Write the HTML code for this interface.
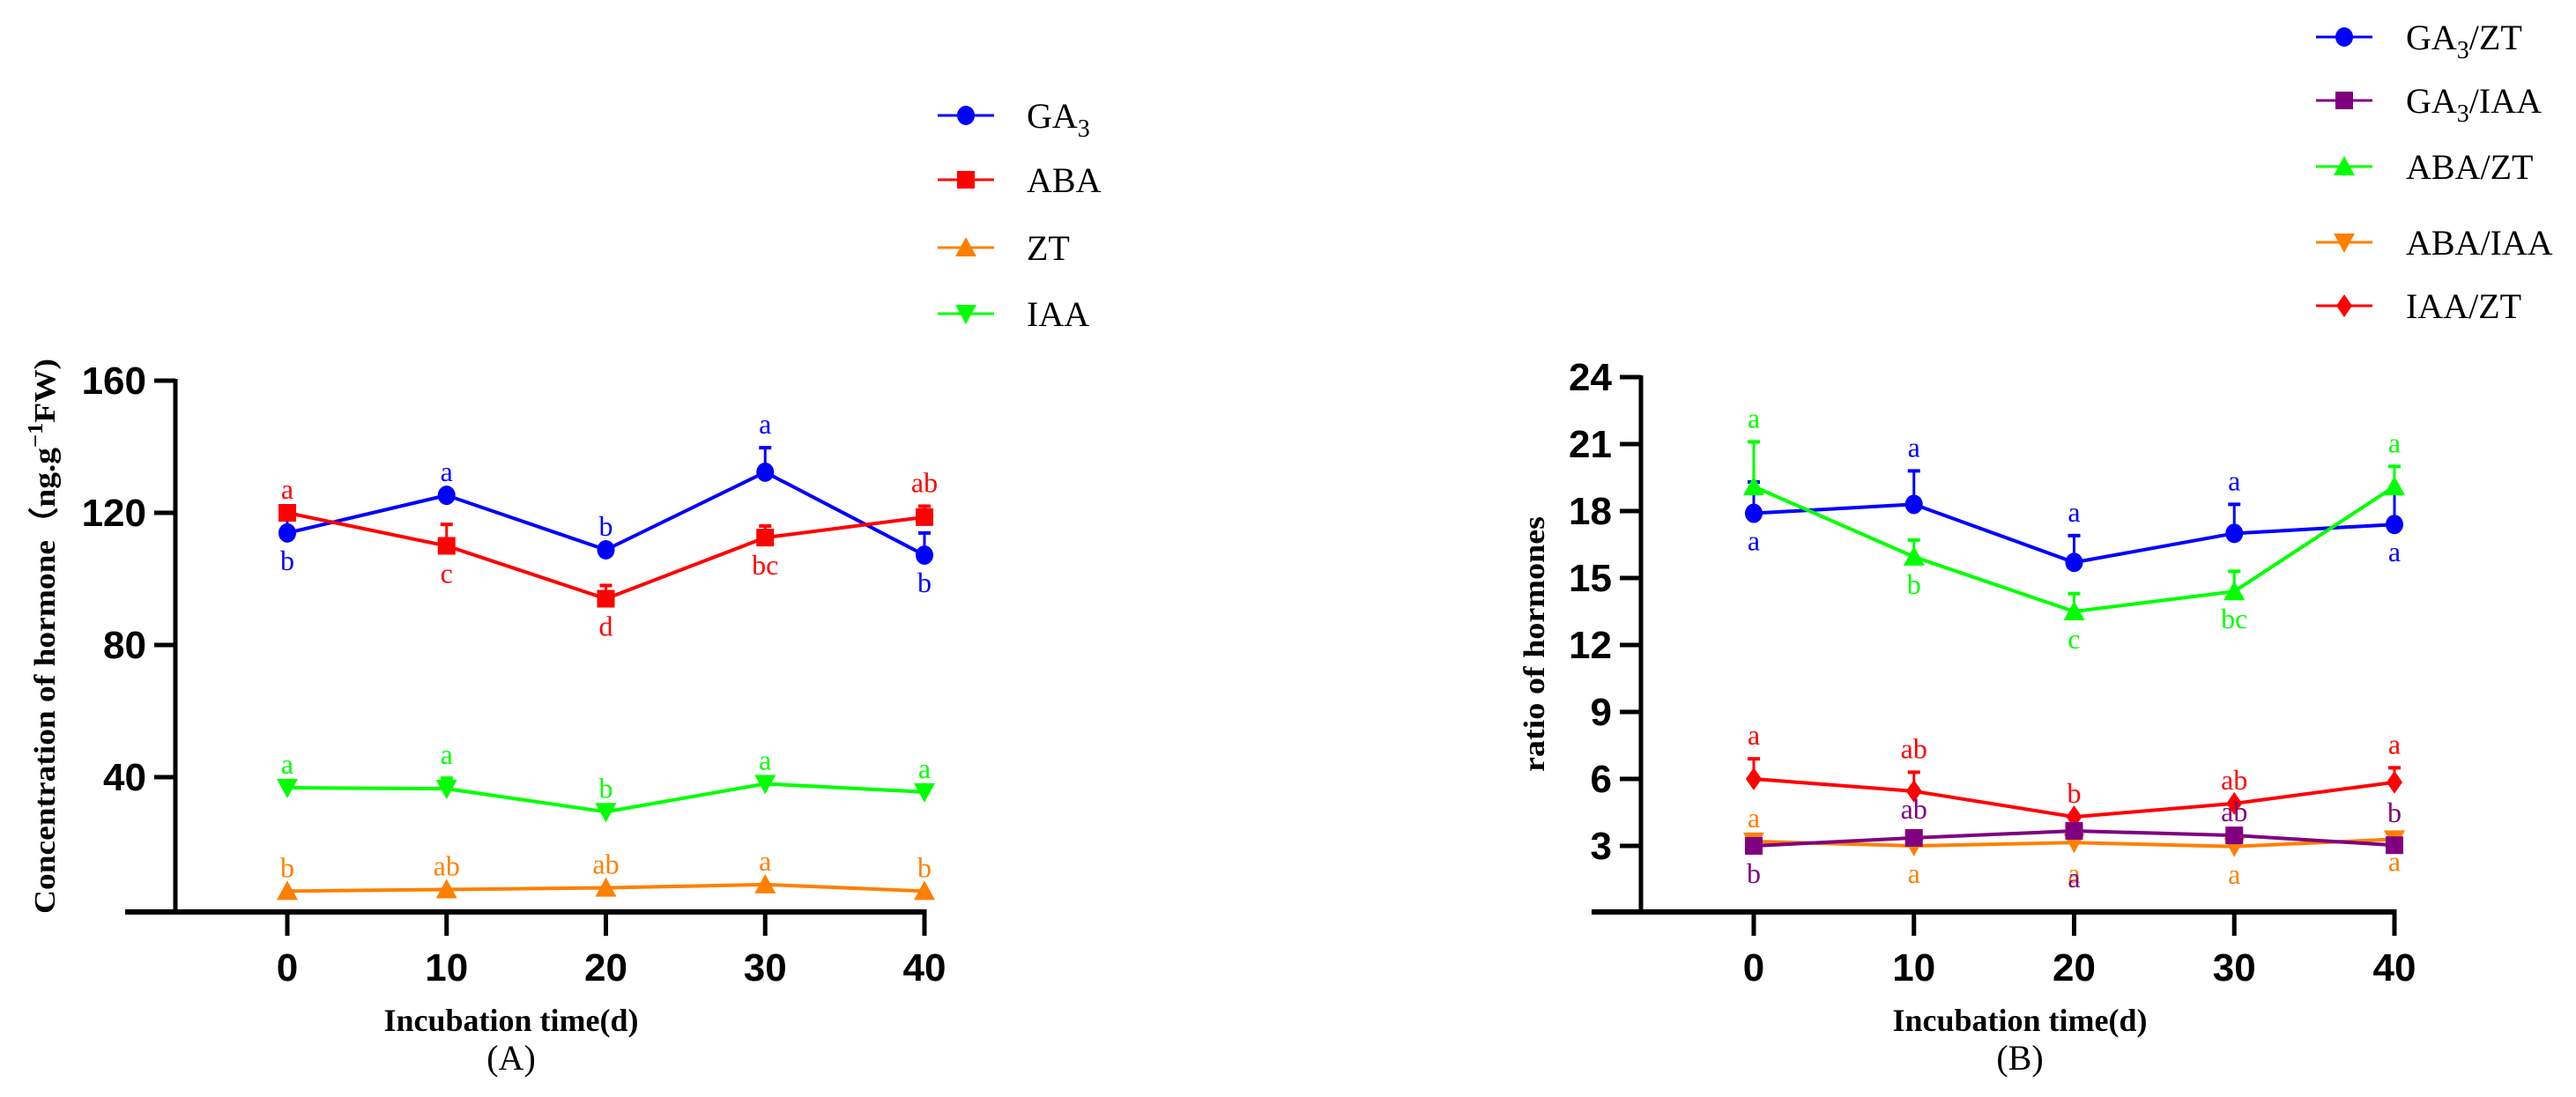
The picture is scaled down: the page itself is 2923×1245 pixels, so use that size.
<!DOCTYPE html>
<html><head><meta charset="utf-8">
<style>
html,body{margin:0;padding:0;background:#fff;}
svg{display:block;}
.tick{font-family:"Liberation Sans",sans-serif;font-weight:bold;font-size:44px;}
.ttl{font-family:"Liberation Serif",serif;font-weight:bold;}
.lbl{font-family:"Liberation Serif",serif;font-size:32px;}
.leg{font-family:"Liberation Serif",serif;font-size:40px;}
</style></head>
<body>
<svg id="chart" width="2923" height="1245" viewBox="0 0 2923 1245" xmlns="http://www.w3.org/2000/svg"></svg>
<script>
// ---- data ----
const days = [0, 10, 20, 30, 40];
const leftTicks = [40, 80, 120, 160];
const rightTicks = [3, 6, 9, 12, 15, 18, 21, 24];

const ga3 = [113.9, 125.3, 108.8, 132.3, 107.2];
const ga3Err = [120.5, 125.3, 108.8, 139.7, 113.9];
const ga3Letters = ["b", "a", "b", "a", "b"];
const ga3Side = [1, -1, -1, -1, 1];

const aba = [120, 110, 94, 112.5, 118.7];
const abaErr = [120, 116.5, 98, 116, 122];
const abaLetters = ["a", "c", "d", "bc", "ab"];
const abaSide = [-1, 1, 1, 1, -1];

const zt = [5.5, 6, 6.5, 7.5, 5.5];
const ztErr = [5.5, 6, 6.5, 7.5, 5.5];
const ztLetters = ["b", "ab", "ab", "a", "b"];
const ztSide = [-1, -1, -1, -1, -1];

const iaa = [36.8, 36.5, 29.5, 38, 35.5];
const iaaErr = [36.8, 39.7, 29.5, 38, 35.5];
const iaaLetters = ["a", "a", "b", "a", "a"];
const iaaSide = [-1, -1, -1, -1, -1];

const ga3zt = [17.9, 18.3, 15.7, 17.0, 17.4];
const ga3ztErr = [19.3, 19.8, 16.9, 18.3, 18.9];
const ga3ztLetters = ["a", "a", "a", "a", "a"];
const ga3ztSide = [1, -1, -1, -1, 1];

const ga3iaa = [3.0, 3.36, 3.67, 3.47, 3.03];
const ga3iaaErr = [3.0, 3.36, 3.67, 3.47, 3.03];
const ga3iaaLetters = ["b", "ab", "a", "ab", "b"];
const ga3iaaSide = [1, -1, 1, -1, -1];

const abazt = [19.1, 15.95, 13.5, 14.4, 19.1];
const abaztErr = [21.1, 16.7, 14.3, 15.3, 20.0];
const abaztLetters = ["a", "b", "c", "bc", "a"];
const abaztSide = [-1, 1, 1, 1, -1];

const abaiaa = [3.2, 3.0, 3.15, 2.97, 3.3];
const abaiaaErr = [3.2, 3.0, 3.15, 2.97, 3.3];
const abaiaaLetters = ["a", "a", "a", "a", "a"];
const abaiaaSide = [-1, 1, 1, 1, 1];

const iaazt = [6.0, 5.45, 4.3, 4.9, 5.85];
const iaaztErr = [6.9, 6.3, 4.3, 4.9, 6.5];
const iaaztLetters = ["a", "ab", "b", "ab", "a"];
const iaaztSide = [-1, -1, -1, -1, -1];

// ---- rendering ----
const NS = "http://www.w3.org/2000/svg";
const svg = document.getElementById("chart");
function el(tag, attrs, parent) {
  const e = document.createElementNS(NS, tag);
  for (const k in attrs) e.setAttribute(k, attrs[k]);
  (parent || svg).appendChild(e);
  return e;
}
function marker(g, shape, cx, cy, color) {
  let m;
  if (shape === "circle") m = el("ellipse", {cx: cx, cy: cy, rx: 10, ry: 11, fill: color}, g);
  else if (shape === "square") m = el("rect", {x: cx - 10, y: cy - 10, width: 20, height: 20, fill: color}, g);
  else if (shape === "up") m = el("polygon", {points: `${cx-12},${cy+10} ${cx+12},${cy+10} ${cx},${cy-12}`, fill: color}, g);
  else if (shape === "down") m = el("polygon", {points: `${cx-12},${cy-10} ${cx+12},${cy-10} ${cx},${cy+12}`, fill: color}, g);
  else m = el("polygon", {points: `${cx},${cy-13} ${cx+9},${cy} ${cx},${cy+13} ${cx-9},${cy}`, fill: color}, g);
  return m;
}

function drawPanel(p) {
  const xS = d => p.x0 + (d - days[0]) / (days[4] - days[0]) * (p.x40 - p.x0);
  const yS = v => p.yBase - (v - p.ymin) / (p.ymax - p.ymin) * (p.yBase - p.yTop);
  const ax = el("g", {}, svg);
  
  
  const ya = el("line", {x1: p.axX, y1: yS(p.ymax) - 2, x2: p.axX, y2: 1037, stroke: "#000", "stroke-width": 5}, ax);
  
  
  const xa = el("line", {x1: p.xStart, y1: 1035, x2: xS(40) + 2.5, y2: 1035, stroke: "#000", "stroke-width": 6}, ax);
  
  
  p.ticks.forEach(t => {
    const y = yS(t);
    el("line", {x1: p.axX - 24, y1: y, x2: p.axX, y2: y, stroke: "#000", "stroke-width": 5}, ax);
    const tx = el("text", {x: p.axX - 33, y: y + 15, "text-anchor": "end", class: "tick"}, ax);
    tx.textContent = t;
    
    
  });
  days.forEach(d => {
    const x = xS(d);
    el("line", {x1: x, y1: 1035, x2: x, y2: 1062, stroke: "#000", "stroke-width": 5}, ax);
    const tx = el("text", {x: x, y: 1113, "text-anchor": "middle", class: "tick"}, ax);
    tx.textContent = d;
    
    
  });
  const xt = el("text", {x: p.titleX, y: 1170, "text-anchor": "middle", class: "ttl", "font-size": 36}, ax);
  xt.textContent = "Incubation time(d)";
  
  
  const pl = el("text", {x: p.titleX, y: 1214, "text-anchor": "middle", class: "leg", "font-size": 36}, ax);
  pl.textContent = p.panel;
  
  
  const yt = el("text", {x: 0, y: 0, "text-anchor": "middle", class: "ttl", "font-size": p.ytSize,
    transform: `translate(${p.ytX},${p.ytY}) rotate(-90)`, textLength: p.ytLen, lengthAdjust: "spacingAndGlyphs"}, ax);
  yt.innerHTML = p.ytitle;
  
  

  p.series.forEach(s => {
    const g = el("g", {}, svg);
    
    
    const pts = s.v.map((v, i) => `${xS(days[i])},${yS(v)}`).join(" ");
    el("polyline", {points: pts, fill: "none", stroke: s.c, "stroke-width": 4}, g);
    s.v.forEach((v, i) => {
      const x = xS(days[i]), y = yS(v), ye = yS(s.e[i]);
      if (ye < y - 3) {
        el("line", {x1: x, y1: y, x2: x, y2: ye, stroke: s.c, "stroke-width": 3}, g);
        el("line", {x1: x - 7, y1: ye, x2: x + 7, y2: ye, stroke: s.c, "stroke-width": 4}, g);
      }
      const m = marker(g, s.m, x, y, s.c);
      
      
      const top = Math.min(ye, y);
      const ly = s.side[i] < 0 ? top - 16 : y + 42;
      const t = el("text", {x: x, y: ly + (s.dy ? s.dy[i] : 0), "text-anchor": "middle", class: "lbl", fill: s.c}, g);
      t.textContent = s.L[i];
      
      
    });
  });

  p.legend.forEach((l, i) => {
    const g = el("g", {}, svg);
    
    
    const y = l.y;
    el("line", {x1: p.legX, y1: y, x2: p.legX + 64, y2: y, stroke: l.c, "stroke-width": 3}, g);
    marker(g, l.m, p.legX + 32, y, l.c);
    const t = el("text", {x: p.legTX, y: y + 14, class: "leg"}, g);
    t.innerHTML = l.t;
  });
}

drawPanel({
  name: "left-chart", panel: "(A)",
  x0: 326, x40: 1049, axX: 199, xStart: 142, yTop: 432, yBase: 1032, ymin: 0, ymax: 160,
  ticks: leftTicks, titleX: 580,
  ytitle: 'Concentration of hormone（ng.g<tspan dy="-14" font-size="24">−1</tspan><tspan dy="14">FW)</tspan>',
  ytX: 62, ytY: 722, ytSize: 34, ytLen: 630,
  series: [
    {id: "ga3", v: ga3, e: ga3Err, L: ga3Letters, side: ga3Side, c: "#0000ff", m: "circle"},
    {id: "aba", v: aba, e: abaErr, L: abaLetters, side: abaSide, c: "#ff0000", m: "square"},
    {id: "zt", v: zt, e: ztErr, L: ztLetters, side: ztSide, c: "#ff7f00", m: "up"},
    {id: "iaa", v: iaa, e: iaaErr, L: iaaLetters, side: iaaSide, c: "#00ff00", m: "down"}
  ],
  legX: 1064, legTX: 1165,
  legend: [
    {t: 'GA<tspan font-size="28" dy="10">3</tspan>', c: "#0000ff", m: "circle", y: 131},
    {t: "ABA", c: "#ff0000", m: "square", y: 204},
    {t: "ZT", c: "#ff7f00", m: "up", y: 281},
    {t: "IAA", c: "#00ff00", m: "down", y: 356}
  ]
});

drawPanel({
  name: "right-chart", panel: "(B)",
  x0: 1990, x40: 2717, axX: 1862, xStart: 1806, yTop: 428, yBase: 1036, ymin: 0, ymax: 24,
  ticks: rightTicks, titleX: 2292,
  ytitle: 'ratio of hormones',
  ytX: 1752, ytY: 731, ytSize: 34, ytLen: 290,
  series: [
    {id: "ga3-zt", v: ga3zt, e: ga3ztErr, L: ga3ztLetters, side: ga3ztSide, c: "#0000ff", m: "circle"},
    {id: "aba-zt", v: abazt, e: abaztErr, L: abaztLetters, side: abaztSide, c: "#00ff00", m: "up"},
    {id: "iaa-zt", v: iaazt, e: iaaztErr, L: iaaztLetters, side: iaaztSide, c: "#ff0000", m: "diamond"},
    {id: "aba-iaa", v: abaiaa, e: abaiaaErr, L: abaiaaLetters, side: abaiaaSide, c: "#ff7f00", m: "down", dy: [0, 0, 4, 0, -6]},
    {id: "ga3-iaa", v: ga3iaa, e: ga3iaaErr, L: ga3iaaLetters, side: ga3iaaSide, c: "#800080", m: "square", dy: [0, -6, 22, 0, -10]}
  ],
  legX: 2628, legTX: 2730,
  legend: [
    {t: 'GA<tspan font-size="28" dy="10">3</tspan><tspan dy="-10">/ZT</tspan>', c: "#0000ff", m: "circle", y: 42},
    {t: 'GA<tspan font-size="28" dy="10">3</tspan><tspan dy="-10">/IAA</tspan>', c: "#800080", m: "square", y: 114},
    {t: "ABA/ZT", c: "#00ff00", m: "up", y: 189},
    {t: "ABA/IAA", c: "#ff7f00", m: "down", y: 275},
    {t: "IAA/ZT", c: "#ff0000", m: "diamond", y: 347}
  ]
});
</script>
</body></html>
